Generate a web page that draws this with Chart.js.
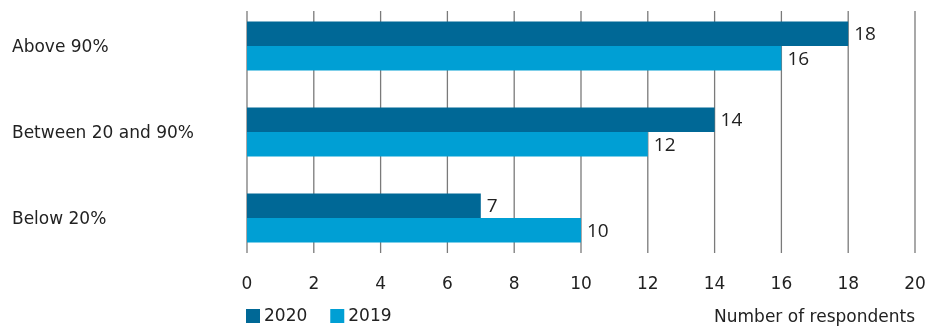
<!DOCTYPE html>
<html><head><meta charset="utf-8">
<script src="https://cdn.jsdelivr.net/npm/chart.js@4/dist/chart.umd.min.js"></script>
<style>html,body{margin:0;padding:0;background:#fff}#wrap{width:941px;height:329px;position:relative}</style>
</head><body><div id="wrap"><canvas id="c"></canvas></div>
<script>
const categories = ["Above 90%", "Between 20 and 90%", "Below 20%"];
const values2020 = [18, 14, 7];
const values2019 = [16, 12, 10];
const seriesNames = ["2020", "2019"];
const axisTitle = "Number of respondents";
const FONT = "'DejaVu Sans'";
const TEXT = '#222';

const gridPlugin = {
  id: 'customGrid',
  beforeDatasetsDraw(chart) {
    const {ctx, scales: {x}, chartArea} = chart;
    ctx.save();
    ctx.strokeStyle = '#7a7a7a';
    ctx.lineWidth = 1.3;
    x.ticks.forEach(t => {
      const px = x.getPixelForValue(t.value);
      ctx.beginPath();
      ctx.moveTo(px, chartArea.top + 8);
      ctx.lineTo(px, chartArea.bottom - 8);
      ctx.stroke();
    });
    ctx.restore();
  }
};
const labelPlugin = {
  id: 'valueLabels',
  afterDatasetsDraw(chart) {
    const {ctx} = chart;
    ctx.save();
    ctx.font = '19px "Open Sans"';
    ctx.fillStyle = TEXT;
    ctx.textBaseline = 'middle';
    ctx.textAlign = 'left';
    chart.data.datasets.forEach((ds, i) => {
      chart.getDatasetMeta(i).data.forEach((bar, j) => {
        ctx.fillText(String(ds.data[j]), bar.x + 6, bar.y + 1);
      });
    });
    ctx.restore();
  }
};
const legendPlugin = {
  id: 'customLegend',
  afterDraw(chart) {
    const {ctx, chartArea} = chart;
    ctx.save();
    ctx.font = '17px ' + FONT;
    ctx.textBaseline = 'middle';
    let x = chartArea.left - 1;
    const y = 316;
    chart.data.datasets.forEach(ds => {
      ctx.fillStyle = ds.backgroundColor;
      ctx.fillRect(x, y - 7, 14, 14);
      ctx.fillStyle = TEXT;
      ctx.fillText(ds.label, x + 18, y + 1);
      x += 18 + ctx.measureText(ds.label).width + 23;
    });
    ctx.restore();
  }
};

new Chart(document.getElementById('c'), {
  type: 'bar',
  data: {
    labels: categories,
    datasets: [
      {label: seriesNames[0], data: values2020, backgroundColor: '#006896'},
      {label: seriesNames[1], data: values2019, backgroundColor: '#009fd4'}
    ]
  },
  options: {
    indexAxis: 'y',
    responsive: true,
    maintainAspectRatio: false,
    animation: false,
    layout: {padding: {top: 3, left: 12, right: 26, bottom: 0}},
    datasets: {bar: {barPercentage: 1, categoryPercentage: 0.57}},
    plugins: {legend: {display: false}, tooltip: {enabled: false}},
    scales: {
      x: {
        min: 0, max: 20,
        ticks: {stepSize: 2, color: TEXT, font: {family: FONT, size: 17}, padding: 13},
        grid: {display: false, drawTicks: false},
        border: {display: false},
        title: {display: true, text: axisTitle, align: 'end', color: TEXT,
                font: {family: FONT, size: 17}, padding: {top: 4, bottom: 1}},
        afterFit(scale) { scale.height = 68; }
      },
      y: {
        ticks: {color: TEXT, font: {family: FONT, size: 17}, crossAlign: 'far', padding: 0, labelOffset: 2},
        grid: {display: false, drawTicks: false},
        border: {display: false},
        afterFit(scale) { scale.width = 235; scale.paddingTop = 0; scale.paddingBottom = 0; }
      }
    }
  },
  plugins: [gridPlugin, labelPlugin, legendPlugin]
});
</script></body></html>
